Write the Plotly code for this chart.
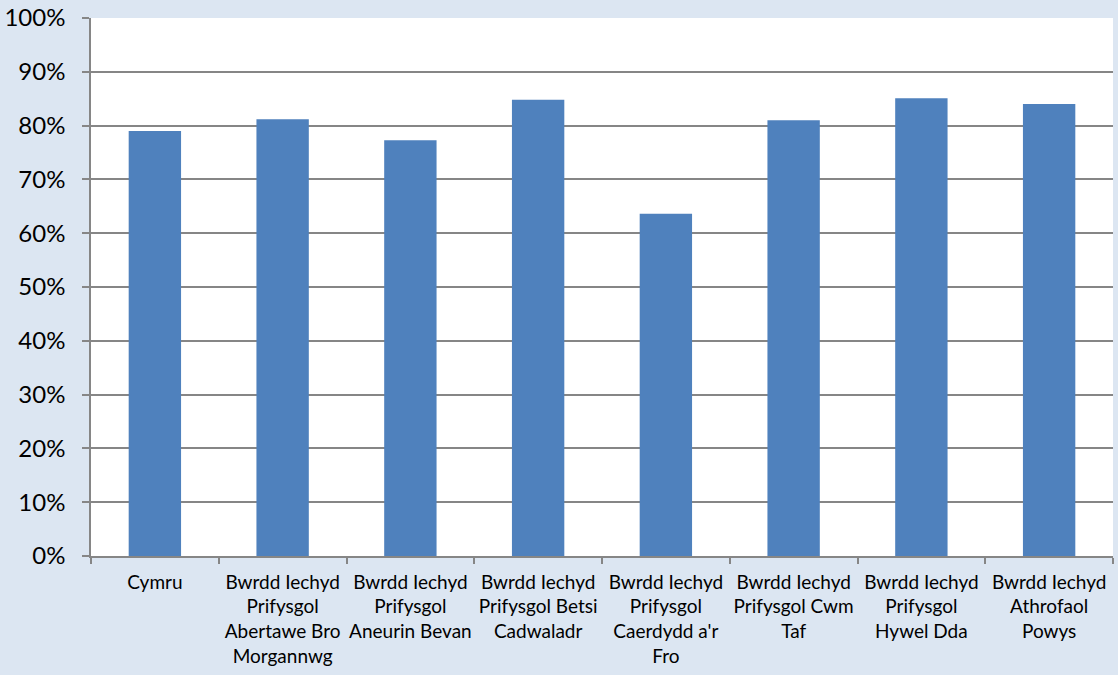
import plotly.graph_objects as go

categories = [
    "Cymru",
    "Bwrdd Iechyd<br>Prifysgol<br>Abertawe Bro<br>Morgannwg",
    "Bwrdd Iechyd<br>Prifysgol<br>Aneurin Bevan",
    "Bwrdd Iechyd<br>Prifysgol Betsi<br>Cadwaladr",
    "Bwrdd Iechyd<br>Prifysgol<br>Caerdydd a'r<br>Fro",
    "Bwrdd Iechyd<br>Prifysgol Cwm<br>Taf",
    "Bwrdd Iechyd<br>Prifysgol<br>Hywel Dda",
    "Bwrdd Iechyd<br>Athrofaol<br>Powys",
]
values = [0.790, 0.812, 0.773, 0.848, 0.636, 0.810, 0.851, 0.840]
y_ticks = [i / 10 for i in range(11)]
y_labels = [f"{i*10}%" for i in range(11)]

fig = go.Figure(go.Bar(x=categories, y=values, marker=dict(color="#4f81bd", line=dict(width=0)), width=0.41))

fig.update_layout(
    width=1118, height=675,
    paper_bgcolor="#dce6f2",
    plot_bgcolor="#ffffff",
    margin=dict(l=91, r=5, t=18, b=119, autoexpand=False),
    showlegend=False,
    font=dict(family="Lato, Open Sans, sans-serif", color="#000000"),
)
fig.update_yaxes(
    range=[0, 1], tickvals=y_ticks, ticktext=y_labels,
    showgrid=True, gridcolor="#868686", gridwidth=1.5,
    showline=True, linecolor="#868686", linewidth=1.5,
    ticks="outside", ticklen=7, tickcolor="#868686", tickwidth=1.5,
    tickfont=dict(size=24), ticklabelstandoff=12, zeroline=False,
    automargin=False,
)
fig.update_xaxes(
    showline=True, linecolor="#868686", linewidth=1.5,
    ticks="outside", ticklen=6, tickcolor="#868686", tickwidth=1.5,
    tickson="boundaries", tickangle=0,
    tickfont=dict(size=19), ticklabelstandoff=8, showgrid=False,
    automargin=False,
)
fig.write_html("out.html")
